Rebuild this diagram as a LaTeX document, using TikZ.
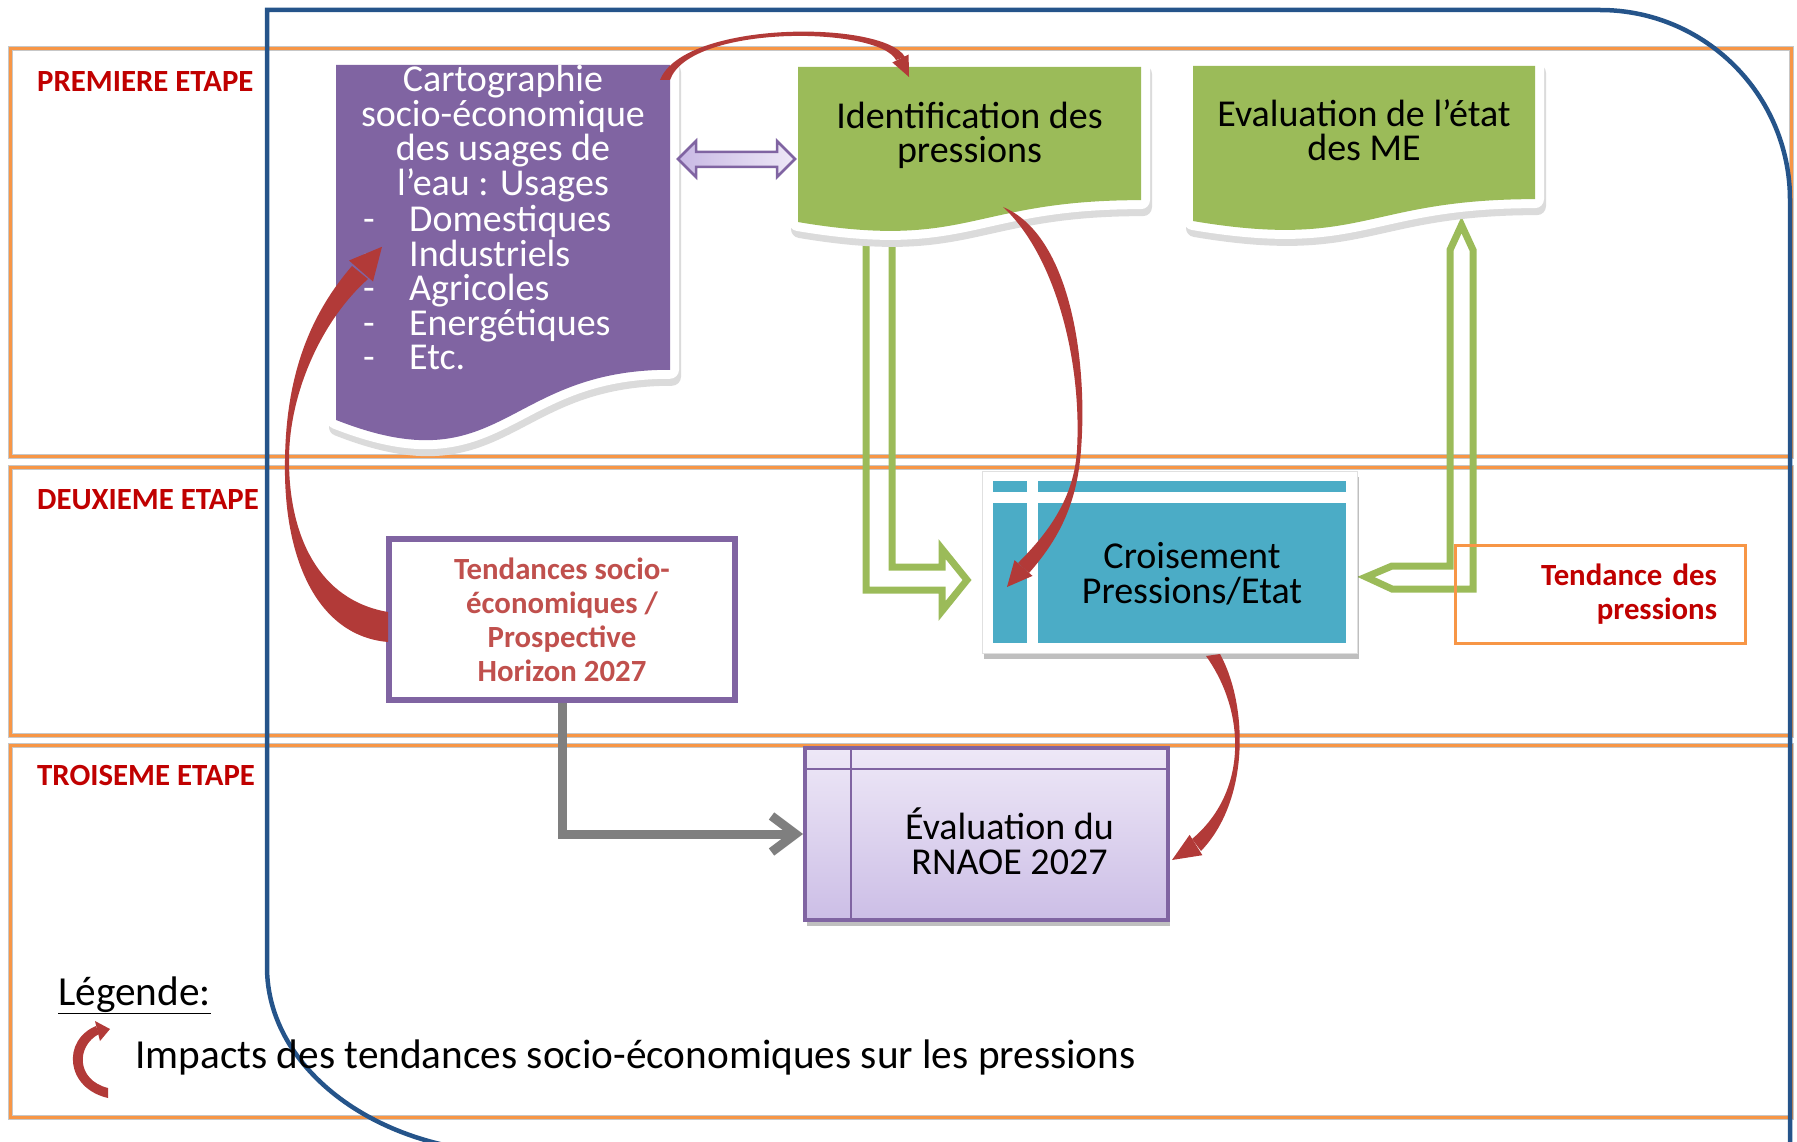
\documentclass[tikz,border=0pt]{standalone}
\usepackage{fontspec}
\setmainfont{Carlito}
\usepackage{tikz}
\usetikzlibrary{arrows.meta, positioning, calc, shadows}

\definecolor{bandorange}{RGB}{247,150,70}
\definecolor{framblue}{RGB}{37,84,138}
\definecolor{stepred}{RGB}{192,0,0}
\definecolor{docgreen}{RGB}{155,187,89}
\definecolor{docpurple}{RGB}{128,100,162}
\definecolor{crossblue}{RGB}{75,172,198}
\definecolor{trendred}{RGB}{192,80,77}
\definecolor{impactred}{RGB}{178,58,56}
\definecolor{arrowgray}{RGB}{127,127,127}
\definecolor{lavlight}{RGB}{238,232,247}
\definecolor{lavdark}{RGB}{204,190,230}
\definecolor{lavarrow}{RGB}{200,184,228}

% document shape (flowchart "document")
\newcommand{\docpath}[4]{(#1,#2) -- ({#1+#3},#2) -- ({#1+#3},{#2+0.802*#4}) .. controls ({#1+0.5*#3},{#2+0.802*#4}) and ({#1+0.5*#3},{#2+1.1075*#4}) .. (#1,{#2+0.934*#4}) -- cycle}

\tikzset{
	stagebox/.style={draw=bandorange, line width=3pt, preaction={draw=black!22, line width=5pt}},
	stagelabel/.style={anchor=base west, inner sep=0pt, text=stepred, font=\fontsize{30.8}{34}\selectfont\bfseries},
	docframe/.style={fill=white, draw=white, line width=18pt, line join=round},
	docshadow/.style={fill=black!14, draw=black!14, line width=18pt, line join=round},
	doctext/.style={anchor=base, align=center, inner sep=0pt, font=\fontsize{38}{34.5}\selectfont},
	cartotext/.style={anchor=base, align=center, inner sep=0pt, text=white, font=\fontsize{38}{34.5}\selectfont},
	greenarrow/.style={draw=docgreen, line width=7pt},
	crossframe/.style={fill=white, draw=black!12, line width=.8pt, minimum width=375pt, minimum height=182pt, drop shadow={shadow xshift=2pt, shadow yshift=-6pt, fill=black, opacity=.25}},
	trendbox/.style={draw=docpurple, line width=6pt, minimum width=346pt, minimum height=161pt, align=center, inner sep=0pt, text=trendred, font=\fontsize{30.8}{34}\selectfont\bfseries},
	pressbox/.style={draw=bandorange, line width=3pt, minimum width=290pt, minimum height=98pt, text width=234pt, align=right, inner xsep=28pt, inner ysep=0pt, text=stepred, font=\fontsize{30.8}{34}\selectfont\bfseries},
	rnaoebox/.style={draw=docpurple, line width=4pt, top color=lavlight, bottom color=lavdark, minimum width=363pt, minimum height=172pt, drop shadow={shadow xshift=2pt, shadow yshift=-6pt, fill=black, opacity=.25}},
	grayarrow/.style={draw=arrowgray, line width=9pt, -{Straight Barb[length=24pt, width=36pt]}},
	impact/.style={fill=impactred},
	legendtext/.style={anchor=base west, inner sep=0pt, font=\fontsize{41.3}{44}\selectfont},
}

\begin{document}
\begin{tikzpicture}[x=1pt, y=-1pt]
	\useasboundingbox (0,0) rectangle (1797,1142);
	% etapes
	\draw[stagebox] (10,49) rectangle (1791,456);
	\draw[stagebox] (10,467) rectangle (1791,735);
	\draw[stagebox] (10,745) rectangle (1791,1117);
	\draw[framblue, line width=4.5pt] (267,10) -- (1600,10) .. controls (1705,10) and (1790,95) .. (1790,200) -- (1790,1153) -- (517,1153) .. controls (379,1153) and (267,1070) .. (267,967) -- cycle;
	\node[stagelabel] (etape1) at (37,92) {PREMIERE ETAPE};
	\node[stagelabel] (etape2) at (37,509) {DEUXIEME ETAPE};
	\node[stagelabel] (etape3) at (37,785) {TROISEME ETAPE};

	% fleches vertes
	\draw[greenarrow] (866,225) -- (866,590) -- (942,590) -- (942,611) -- (967,580) -- (942,549) -- (942,567) -- (892,567) -- (892,225) -- cycle;
	\draw[greenarrow] (1366,577) -- (1392,566) -- (1450,566) -- (1450,250) -- (1461.5,225) -- (1473,250) -- (1473,589) -- (1392,589) -- cycle;

	% documents
	\filldraw[docshadow, shift={(2,7)}] \docpath{336}{65}{334}{380};
	\filldraw[docframe] \docpath{336}{65}{334}{380};
	\fill[docpurple] \docpath{336}{65}{334}{380};
	\filldraw[docshadow, shift={(2,7)}] \docpath{798}{67}{343}{166};
	\filldraw[docframe] \docpath{798}{67}{343}{166};
	\fill[docgreen] \docpath{798}{67}{343}{166};
	\filldraw[docshadow, shift={(2,7)}] \docpath{1193}{66}{342}{166};
	\filldraw[docframe] \docpath{1193}{66}{342}{166};
	\fill[docgreen] \docpath{1193}{66}{342}{166};

	\node[cartotext] (cartotitle) at (503,195.5) {Cartographie\\socio-économique\\des usages de\\l’eau : Usages};
	\node[cartotext, anchor=base west, align=left] (cartolist) at (363,369.5) {\makebox[46pt][l]{-}Domestiques\\\makebox[46pt][l]{-}Industriels\\\makebox[46pt][l]{-}Agricoles\\\makebox[46pt][l]{-}Energétiques\\\makebox[46pt][l]{-}Etc.};
	\node[doctext] (identif) at (969.5,163) {Identification des\\pressions};
	\node[doctext] (etatme) at (1364,161) {Evaluation de l’état\\des ME};

	% double fleche
	\filldraw[draw=docpurple, line width=2.5pt, left color=lavarrow, right color=lavlight] (678,159) -- (696,141) -- (696,152) -- (777,152) -- (777,141) -- (795,159) -- (777,177) -- (777,167) -- (696,167) -- (696,177) -- cycle;

	% croisement
	\node[crossframe] (croisframe) at (1169.5,562) {};
	\fill[crossblue] (993,481) rectangle (1027,492);
	\fill[crossblue] (1038,481) rectangle (1346,492);
	\fill[crossblue] (993,503) rectangle (1027,643);
	\fill[crossblue] (1038,503) rectangle (1346,643);
	\node[doctext] (crois) at (1192,603) {Croisement\\Pressions/Etat};

	% tendances
	\node[trendbox] (tendances) at (562,619.5) {Tendances socio-\\économiques /\\Prospective\\Horizon 2027};
	\node[pressbox] (tendpress) at (1600,594) {Tendance des\\pressions};

	% evaluation RNAOE
	\node[rnaoebox] (rnaoe) at (986.5,834) {};
	\draw[docpurple, line width=2.5pt] (851,748) -- (851,920);
	\draw[docpurple, line width=2.5pt] (805,769) -- (1168,769);
	\node[doctext] (rnaoetxt) at (1009.5,874) {Évaluation du\\RNAOE 2027};

	\draw[grayarrow] (tendances.south) |- (rnaoe.west);

	% fleches d'impact
	\fill[impact] (660,80) .. controls (684,20) and (884,20) .. (905,57) -- (896,60) .. controls (878,26) and (690,24) .. (670,80) -- cycle;
	\fill[impact] (908.6,54.5) -- (909,77) -- (892.4,62.5) -- cycle;
	\fill[impact] (1003,207) .. controls (1070,235) and (1088,360) .. (1081,450) .. controls (1077,505) and (1058,540) .. (1029,573) -- (1018,563) .. controls (1046,535) and (1074,500) .. (1077,450) .. controls (1082,360) and (1055,255) .. (1003,207) -- cycle;
	\fill[impact] (1032.5,575.9) -- (1007,587) -- (1014.5,560.1) -- cycle;
	\fill[impact] (388,642) .. controls (318,636) and (283,560) .. (285,460) .. controls (286,380) and (307,318) .. (352,266) -- (368,279) .. controls (324,318) and (289,390) .. (289,460) .. controls (289,535) and (318,600) .. (388,612) -- cycle;
	\fill[impact] (349,260.5) -- (382,246.8) -- (373,281.5) -- cycle;
	\fill[impact] (1220,654) .. controls (1248,705) and (1250,800) .. (1201,851) -- (1192,839) .. controls (1248,792) and (1246,712) .. (1206,656) -- cycle;
	\fill[impact] (1202.4,855.2) -- (1172,860) -- (1189.6,834.8) -- cycle;

	% legende
	\node[legendtext] (legtitle) at (58,1005) {\underline{Légende:}};
	\fill[impact] (108,1098) .. controls (65,1088) and (62,1040) .. (96,1026) -- (99,1034) .. controls (76,1046) and (76,1080) .. (108,1088) -- cycle;
	\fill[impact] (95,1021) -- (110,1029) -- (100,1041) -- cycle;
	\node[legendtext] (legimpact) at (135,1068) {Impacts des tendances socio-économiques sur les pressions};
\end{tikzpicture}
\end{document}
